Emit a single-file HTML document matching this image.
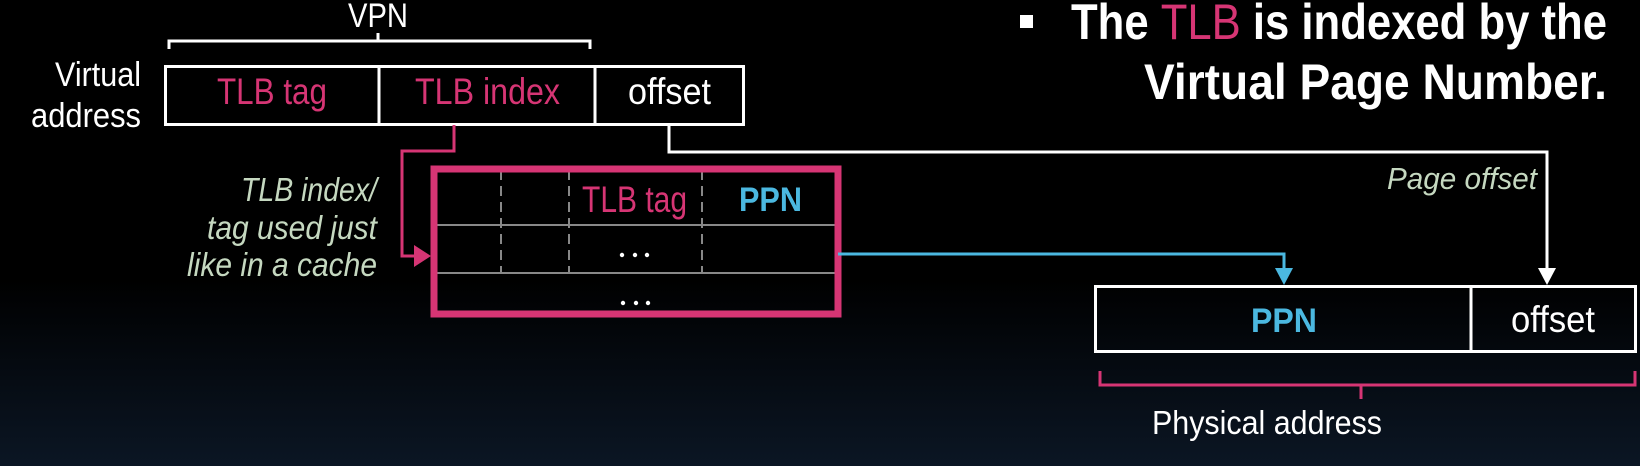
<!DOCTYPE html>
<html><head><meta charset="utf-8"><style>
html,body{margin:0;padding:0;width:1640px;height:466px;overflow:hidden;background:#000}
svg{display:block}
text{font-family:"Liberation Sans",sans-serif}
</style></head><body>
<svg width="1640" height="466" viewBox="0 0 1640 466" xmlns="http://www.w3.org/2000/svg">
<defs><linearGradient id="bg" x1="0" y1="0" x2="0" y2="1">
<stop offset="0" stop-color="#000"/><stop offset="0.6" stop-color="#000"/><stop offset="1" stop-color="#0b1624"/></linearGradient></defs>
<rect width="1640" height="466" fill="url(#bg)"/>

<!-- bullet -->
<rect x="1020" y="15" width="13" height="13" fill="#fff"/>
<text x="1071" y="39" font-size="50" font-weight="bold" fill="#fff" textLength="536" lengthAdjust="spacingAndGlyphs">The <tspan fill="#d63574" font-weight="normal">TLB</tspan> is indexed by the</text>
<text x="1144" y="99" font-size="50" font-weight="bold" fill="#fff" textLength="463" lengthAdjust="spacingAndGlyphs">Virtual Page Number.</text>

<!-- VPN brace -->
<text x="348" y="27" font-size="34" fill="#fff" textLength="60" lengthAdjust="spacingAndGlyphs">VPN</text>
<path d="M169 49 V41 H590 V49 M378 41 V33" fill="none" stroke="#fff" stroke-width="3"/>

<!-- Virtual address -->
<text x="55" y="86" font-size="34" fill="#fff" textLength="86" lengthAdjust="spacingAndGlyphs">Virtual</text>
<text x="31" y="127" font-size="34" fill="#fff" textLength="110" lengthAdjust="spacingAndGlyphs">address</text>
<rect x="165.5" y="66.5" width="578" height="58" fill="none" stroke="#fff" stroke-width="3"/>
<line x1="379" y1="66" x2="379" y2="125" stroke="#fff" stroke-width="3"/>
<line x1="595" y1="66" x2="595" y2="125" stroke="#fff" stroke-width="3"/>
<text x="217" y="104" font-size="37" fill="#d63574" textLength="110" lengthAdjust="spacingAndGlyphs">TLB tag</text>
<text x="415" y="104" font-size="37" fill="#d63574" textLength="145" lengthAdjust="spacingAndGlyphs">TLB index</text>
<text x="628" y="104" font-size="37" fill="#fff" textLength="83" lengthAdjust="spacingAndGlyphs">offset</text>

<!-- pink index connector -->
<path d="M454 125 V151 H402 V256 H418" fill="none" stroke="#d63574" stroke-width="3"/>
<polygon points="414,245 431,256 414,267" fill="#d63574"/>

<!-- italic note -->
<g font-size="33" font-style="italic" fill="#c5d8c0">
<text x="241" y="201" textLength="136" lengthAdjust="spacingAndGlyphs">TLB index/</text>
<text x="207" y="239" textLength="170" lengthAdjust="spacingAndGlyphs">tag used just</text>
<text x="187" y="276" textLength="190" lengthAdjust="spacingAndGlyphs">like in a cache</text>
</g>

<!-- white offset connector -->
<path d="M669 125 V152 H1547 V270" fill="none" stroke="#fff" stroke-width="3"/>
<polygon points="1538,268 1547,285 1556,268" fill="#fff"/>
<text x="1387" y="189" font-size="31" font-style="italic" fill="#c5d8c0" textLength="150" lengthAdjust="spacingAndGlyphs">Page offset</text>

<!-- TLB table -->
<g stroke="#888" stroke-width="2">
<line x1="436" y1="225" x2="836" y2="225"/>
<line x1="436" y1="273" x2="836" y2="273"/>
<line x1="501" y1="170" x2="501" y2="273" stroke-dasharray="10,6"/>
<line x1="569" y1="170" x2="569" y2="273" stroke-dasharray="10,6"/>
<line x1="702" y1="170" x2="702" y2="273" stroke-dasharray="10,6"/>
</g>
<rect x="434" y="169" width="404" height="145" fill="none" stroke="#d63574" stroke-width="7"/>
<text x="582" y="212" font-size="37" fill="#d63574" textLength="105" lengthAdjust="spacingAndGlyphs">TLB tag</text>
<text x="739" y="211" font-size="34" font-weight="bold" fill="#4bb8e0" textLength="63" lengthAdjust="spacingAndGlyphs">PPN</text>
<g fill="#fff"><circle cx="622" cy="255" r="2.2"/><circle cx="635" cy="255" r="2.2"/><circle cx="647" cy="255" r="2.2"/>
<circle cx="623" cy="303" r="2.2"/><circle cx="636" cy="303" r="2.2"/><circle cx="648" cy="303" r="2.2"/></g>

<!-- blue connector -->
<path d="M838 254 H1284 V270" fill="none" stroke="#4bb8e0" stroke-width="3"/>
<polygon points="1275,268 1284,285 1293,268" fill="#4bb8e0"/>

<!-- Physical address -->
<rect x="1095.5" y="286.5" width="540" height="65" fill="none" stroke="#fff" stroke-width="3"/>
<line x1="1471" y1="286" x2="1471" y2="352" stroke="#fff" stroke-width="3"/>
<text x="1251" y="332" font-size="34" font-weight="bold" fill="#4bb8e0" textLength="66" lengthAdjust="spacingAndGlyphs">PPN</text>
<text x="1511" y="332" font-size="37" fill="#fff" textLength="84" lengthAdjust="spacingAndGlyphs">offset</text>
<path d="M1100 371 V385 H1635 V371 M1361 385 V399" fill="none" stroke="#d63574" stroke-width="3"/>
<text x="1152" y="434" font-size="33" fill="#fff" textLength="230" lengthAdjust="spacingAndGlyphs">Physical address</text>
</svg>
</body></html>
